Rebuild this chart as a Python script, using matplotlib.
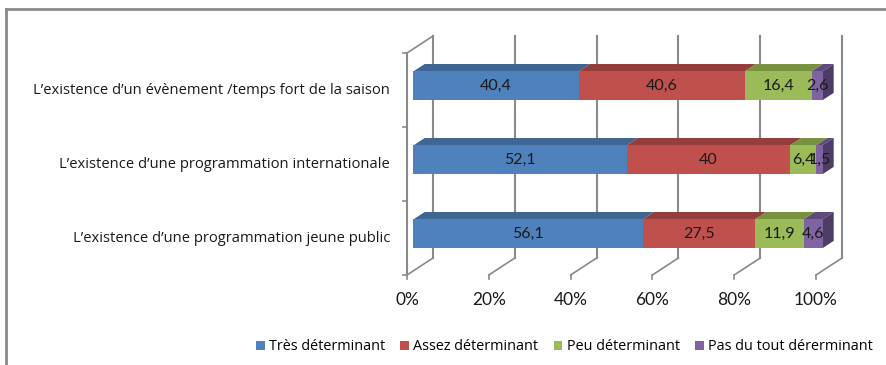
import matplotlib.pyplot as plt
from matplotlib.patches import Polygon, Patch
from matplotlib.lines import Line2D

plt.rcParams['font.family'] = ['Lato', 'DejaVu Sans']

# rows are listed bottom to top
categories = [
    "L’existence d’une programmation jeune public",
    "L’existence d’une programmation internationale",
    "L’existence d’un évènement /temps fort de la saison",
]
series = ["Très déterminant", "Assez déterminant", "Peu déterminant",
          "Pas du tout dérerminant"]
tres = [56.1, 52.1, 40.4]
assez = [27.5, 40, 40.6]
peu = [11.9, 6.4, 16.4]
pas_du_tout = [4.6, 1.5, 2.6]
ticks = [0, 20, 40, 60, 80, 100]
tick_labels = ["0%", "20%", "40%", "60%", "80%", "100%"]

front_colors = ["#4F81BD", "#C0504D", "#9BBB59", "#8064A2"]
top_colors = ["#3E6693", "#943E3B", "#77913F", "#5E4A7C"]
side_color = "#4D3C66"
grid_color = "#8A8A8A"
label_font = ['Open Sans', 'DejaVu Sans']

W, H = 886, 365
# pixel layout of the front plane: 0% at x=407, one row = 74 px
PX0, PX_PER = 407, 4.09
ROW0_Y, ROW_PX = 238, 74
DX, DY = 26 / PX_PER, 17 / ROW_PX   # full depth of the box
Z0, Z1 = 0.25, 0.68                 # depth span of the bars
BAR_H = 0.39

fig = plt.figure(figsize=(W / 100, H / 100), dpi=100)
ax = fig.add_axes([0, 0, 1, 1])
ax.set_xlim(-PX0 / PX_PER, (W - PX0) / PX_PER)
ax.set_ylim((ROW0_Y - H) / ROW_PX, ROW0_Y / ROW_PX)
ax.axis('off')


def at(x, y, z):
    return (x + z * DX, y + z * DY)


y_lo, y_hi = -0.5, len(categories) - 0.5

# back wall gridlines and floor lines
for t in ticks:
    ax.plot(*zip(at(t, y_lo, 1), at(t, y_hi, 1)), color=grid_color, lw=1.5, zorder=1)
    ax.plot(*zip(at(t, y_lo, 0), at(t, y_lo, 1)), color=grid_color, lw=1.2, zorder=1)
    ax.plot([t, t], [y_lo, y_lo - 4 / ROW_PX], color=grid_color, lw=1.2, zorder=1)
    ax.text(t, y_lo - 25 / ROW_PX, tick_labels[ticks.index(t)], ha='center',
            va='center', fontsize=12.5, color='#1a1a1a')

# left wall
ax.plot([0, 0], [y_lo, y_hi], color=grid_color, lw=1.5, zorder=1)
ax.plot(*zip(at(0, y_hi, 0), at(0, y_hi, 1)), color=grid_color, lw=1.2, zorder=1)
for k in range(len(categories) + 1):
    yy = y_lo + k
    ax.plot([0, -4 / PX_PER], [yy, yy], color=grid_color, lw=1.2, zorder=1)

# stacked bars, normalised to 100 %
values = [tres, assez, peu, pas_du_tout]
for i, cat in enumerate(categories):
    row = [s[i] for s in values]
    total = sum(row)
    left = 0
    for j, v in enumerate(row):
        w = v * 100 / total
        x0, x1 = left, left + w
        yb, yt = i - BAR_H / 2, i + BAR_H / 2
        front = [at(x0, yb, Z0), at(x1, yb, Z0), at(x1, yt, Z0), at(x0, yt, Z0)]
        top = [at(x0, yt, Z0), at(x1, yt, Z0), at(x1, yt, Z1), at(x0, yt, Z1)]
        ax.add_patch(Polygon(top, closed=True, fc=top_colors[j], ec='none', zorder=3))
        ax.add_patch(Polygon(front, closed=True, fc=front_colors[j], ec='none', zorder=4))
        if j == len(row) - 1:
            side = [at(x1, yb, Z0), at(x1, yt, Z0), at(x1, yt, Z1), at(x1, yb, Z1)]
            ax.add_patch(Polygon(side, closed=True, fc=side_color, ec='none', zorder=3))
        cx, cy = at((x0 + x1) / 2, i, Z0)
        ax.text(cx, cy, f"{v:g}".replace('.', ','), ha='center', va='center',
                fontsize=11.5, color='#1a1a1a', zorder=5)
        left = x1
    ax.annotate(cat, xy=(0, i), xytext=(-17, 0), textcoords='offset pixels',
                ha='right', va='center', fontsize=10.6, color='#1a1a1a',
                family=label_font)

handles = [Patch(fc=c, ec='none') for c in front_colors]
fig.legend(handles, series, loc='center left', bbox_to_anchor=(256 / W, 1 - 347 / H),
           ncol=4, frameon=False, handlelength=0.6, handleheight=0.6,
           handletextpad=0.3, columnspacing=1.05, borderaxespad=0, borderpad=0,
           prop={'family': label_font, 'size': 10.4})

# outer frame (top and left edges)
fig.add_artist(Line2D([6 / W, 1], [1 - 9 / H] * 2, transform=fig.transFigure,
                      color=grid_color, lw=2))
fig.add_artist(Line2D([6 / W] * 2, [0, 1 - 9 / H], transform=fig.transFigure,
                      color=grid_color, lw=2))

fig.savefig('out.png', dpi=100)
